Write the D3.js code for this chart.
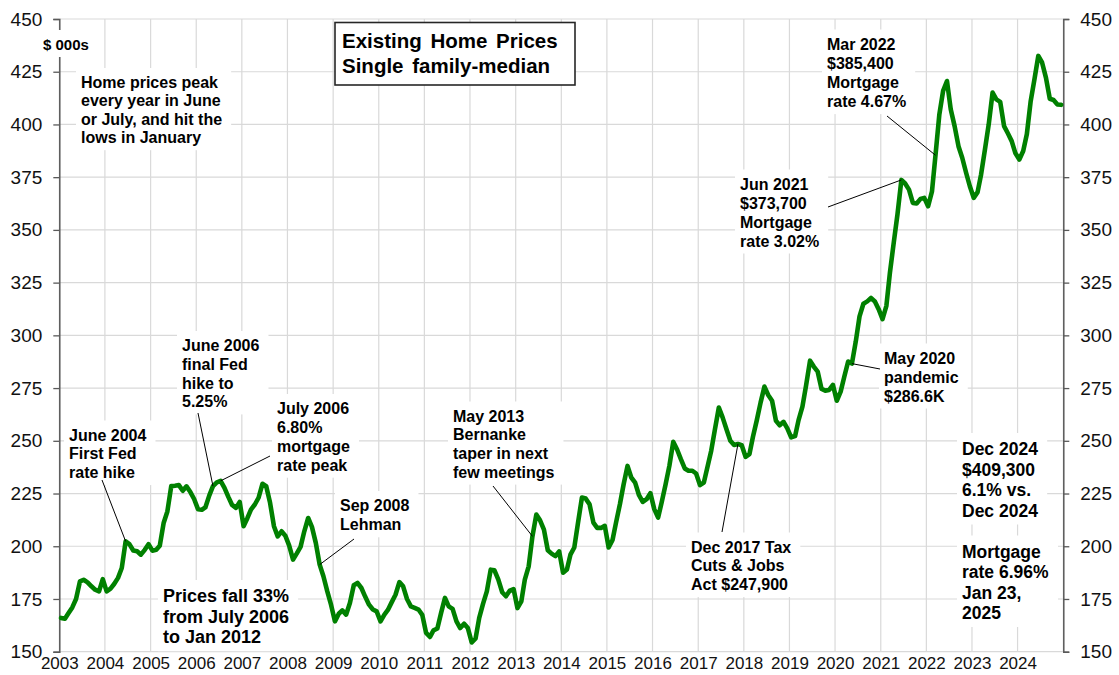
<!DOCTYPE html>
<html>
<head>
<meta charset="utf-8">
<script src="https://cdn.jsdelivr.net/npm/d3@7"></script>
<style>
  body { margin: 0; background: #fff; }
  svg { display: block; }
</style>
</head>
<body>
<svg id="chart" width="1119" height="675"></svg>
<script>
// Existing single-family median price, $000s, monthly Jan 2003 - Dec 2024
const startYear = 2003;
const monthlyPrice = [
  166.0, 165.6, 168.2, 171.0, 175.0, 183.3, 184.1, 182.9, 181.0, 179.4, 178.6, 184.4, // 2003
  178.6, 179.9, 182.1, 185.0, 189.7, 202.3, 201.0, 198.0, 197.6, 196.0, 198.3, 201.0, // 2004
  197.9, 198.3, 200.2, 211.0, 216.5, 228.5, 228.7, 229.0, 226.3, 228.4, 225.7, 222.4, // 2005
  217.6, 217.3, 218.4, 224.0, 228.5, 230.3, 231.0, 227.7, 223.4, 219.6, 218.2, 221.0, // 2006
  209.5, 213.4, 217.4, 219.8, 223.0, 229.6, 228.5, 220.6, 209.5, 204.7, 207.1, 205.0, // 2007
  200.3, 193.7, 196.5, 199.7, 207.1, 213.4, 209.2, 201.6, 191.3, 185.8, 178.6, 172.3, // 2008
  164.4, 168.0, 169.6, 167.6, 173.1, 181.5, 182.6, 180.2, 176.0, 172.3, 170.0, 169.1, // 2009
  164.4, 167.6, 169.8, 173.5, 177.0, 183.0, 181.0, 175.0, 171.5, 170.8, 170.0, 167.5, // 2010
  158.9, 157.0, 160.1, 161.0, 168.4, 175.5, 171.5, 170.3, 164.4, 161.2, 163.3, 161.2, // 2011
  154.4, 156.3, 166.0, 172.8, 178.6, 188.9, 188.6, 184.2, 178.2, 176.3, 179.0, 179.7, // 2012
  170.7, 173.9, 184.2, 190.5, 204.7, 215.0, 212.3, 207.9, 198.1, 196.5, 195.3, 197.6, // 2013
  187.5, 189.0, 196.0, 199.4, 211.2, 223.1, 222.6, 219.9, 211.2, 208.7, 208.7, 209.7, // 2014
  199.4, 203.0, 211.2, 219.9, 229.4, 238.1, 232.6, 230.2, 224.2, 221.0, 222.3, 225.2, // 2015
  217.6, 213.6, 221.0, 229.4, 238.1, 249.5, 246.0, 241.3, 236.9, 235.8, 235.8, 234.5, // 2016
  229.0, 230.2, 237.3, 245.3, 255.5, 265.8, 261.1, 255.5, 250.0, 248.0, 248.5, 247.9, // 2017
  242.4, 243.7, 251.9, 259.8, 268.1, 275.7, 271.7, 269.0, 259.5, 257.4, 259.0, 255.9, // 2018
  251.6, 252.2, 259.8, 266.2, 276.5, 288.0, 285.2, 282.8, 274.6, 273.8, 274.1, 276.5, // 2019
  269.0, 273.3, 280.4, 287.6, 286.6, 297.1, 309.0, 315.0, 316.1, 317.7, 316.1, 312.4, // 2020
  307.7, 314.0, 329.6, 344.0, 357.5, 373.7, 372.0, 369.1, 362.8, 362.5, 364.7, 365.2, // 2021
  361.2, 368.3, 385.4, 404.8, 415.9, 420.6, 407.2, 399.2, 389.7, 384.2, 377.1, 370.7, // 2022
  365.2, 367.9, 376.3, 388.2, 400.0, 415.1, 411.9, 410.7, 399.2, 395.8, 392.1, 386.3, // 2023
  383.4, 387.4, 395.3, 411.1, 421.4, 432.5, 429.4, 422.2, 412.2, 411.6, 409.5, 409.3  // 2024
];
const yTicks = [150, 175, 200, 225, 250, 275, 300, 325, 350, 375, 400, 425, 450];
const xTickYears = d3.range(2003, 2025);
const titleLines = ['Existing Home Prices', 'Single family-median'];

const FONT = '"Liberation Sans", Arial, Helvetica, sans-serif';

// text notes; tip = month index the leader line points at
const notes = [
  { lines: ['Home prices peak', 'every year in June', 'or July, and hit the', 'lows in January'], x: 81, y: 88, size: 16, lh: 18.4 },
  { lines: ['June 2004', 'First Fed', 'rate hike'], x: 69, y: 440.5, size: 16, lh: 18.8, tip: 17, from: [102, 480] },
  { lines: ['June 2006', 'final Fed', 'hike to', '5.25%'], x: 182, y: 351, size: 16, lh: 18.8, tip: 40, from: [198, 413] },
  { lines: ['July 2006', '6.80%', 'mortgage', 'rate peak'], x: 277, y: 414, size: 16, lh: 18.9, tip: 42, from: [270, 456] },
  { lines: ['Sep 2008', 'Lehman'], x: 340, y: 511, size: 16, lh: 19.3, tip: 68, from: [354, 539] },
  { lines: ['Prices fall 33%', 'from July 2006', 'to Jan 2012'], x: 163, y: 602, size: 18, lh: 20.6 },
  { lines: ['May 2013', 'Bernanke', 'taper in next', 'few meetings'], x: 453, y: 421.5, size: 16, lh: 18.7, tip: 124, from: [493, 486] },
  { lines: ['Dec 2017 Tax', 'Cuts & Jobs', 'Act $247,900'], x: 691, y: 552.5, size: 16, lh: 18.8, tip: 178, from: [722, 532] },
  { lines: ['May 2020', 'pandemic', '$286.6K'], x: 884, y: 363.5, size: 16, lh: 19, tip: 208, from: [880, 369] },
  { lines: ['Jun 2021', '$373,700', 'Mortgage', 'rate 3.02%'], x: 740, y: 189.5, size: 16, lh: 19, tip: 221, from: [828, 207] },
  { lines: ['Mar 2022', '$385,400', 'Mortgage', 'rate 4.67%'], x: 827, y: 49.5, size: 16, lh: 19.2, tip: 230, from: [887, 116] },
  { lines: ['Dec 2024', '$409,300', '6.1% vs.', 'Dec 2024'], x: 962, y: 455, size: 17.5, lh: 20.5 },
  { lines: ['Mortgage', 'rate 6.96%', 'Jan 23,', '2025'], x: 962, y: 557.5, size: 17.5, lh: 20.5 },
  { lines: ['$ 000s'], x: 43, y: 50, size: 15, lh: 18 }
];

const width = 1119;
const height = 675;
const margin = { top: 19, right: 55.7, bottom: 23.3, left: 59.3 };

const data = monthlyPrice.map((v, i) => ({
  date: new Date(startYear + Math.floor(i / 12), i % 12, 15), // plotted mid-month
  value: v
}));

const svg = d3.select('#chart');

const x = d3.scaleTime()
  .domain([new Date(2003, 0, 1), new Date(2025, 0, 1)])
  .range([margin.left, width - margin.right]);

const y = d3.scaleLinear()
  .domain([150, 450])
  .range([height - margin.bottom, margin.top]);

// gridlines
const grid = svg.append('g').attr('class', 'grid')
  .attr('stroke', '#d9d9d9').attr('stroke-width', 1.2);

grid.selectAll('line.h')
  .data(yTicks)
  .join('line')
  .attr('class', 'h')
  .attr('x1', margin.left).attr('x2', width - margin.right)
  .attr('y1', d => y(d)).attr('y2', d => y(d));

grid.selectAll('line.v')
  .data(xTickYears.concat([2025]))
  .join('line')
  .attr('class', 'v')
  .attr('x1', d => x(new Date(d, 0, 1))).attr('x2', d => x(new Date(d, 0, 1)))
  .attr('y1', margin.top).attr('y2', height - margin.bottom);

// left + right axes
const leftAxis = svg.append('g')
  .attr('transform', `translate(${margin.left},0)`)
  .call(d3.axisLeft(y).tickValues(yTicks).tickSize(6).tickPadding(11));

const rightAxis = svg.append('g')
  .attr('transform', `translate(${width - margin.right},0)`)
  .call(d3.axisRight(y).tickValues(yTicks).tickSize(6).tickPadding(11));

[leftAxis, rightAxis].forEach(a => {
  a.attr('font-size', 19).attr('font-family', FONT);
  a.select('.domain').attr('stroke', '#595959').attr('stroke-width', 1.5);
  a.selectAll('.tick line').attr('stroke', '#595959').attr('stroke-width', 1.3);
  a.selectAll('.tick text').attr('fill', '#111');
});

// year labels under the chart
const bottomAxis = svg.append('g')
  .attr('transform', `translate(0,${height - margin.bottom})`)
  .call(d3.axisBottom(x)
    .tickValues(xTickYears.map(yr => new Date(yr, 0, 1)))
    .tickFormat(d3.timeFormat('%Y'))
    .tickSize(0)
    .tickPadding(5));
bottomAxis.attr('font-size', 17).attr('font-family', FONT);
bottomAxis.select('.domain').remove();
bottomAxis.selectAll('.tick text').attr('fill', '#111');

// text notes with white backing boxes
const noteLayer = svg.append('g').attr('class', 'notes');
notes.forEach(n => {
  const g = noteLayer.append('g');
  const rect = g.append('rect').attr('fill', '#fff');
  const texts = g.selectAll('text')
    .data(n.lines)
    .join('text')
    .attr('x', n.x)
    .attr('y', (d, k) => n.y + k * n.lh)
    .attr('font-family', FONT)
    .attr('font-weight', 'bold')
    .attr('font-size', n.size)
    .attr('fill', '#000')
    .text(d => d);
  const b = g.node().getBBox();
  rect.attr('x', b.x - 5).attr('y', b.y - 6)
    .attr('width', b.width + 14).attr('height', b.height + 10);
});

// price line
const line = d3.line()
  .x(d => x(d.date))
  .y(d => y(d.value));

svg.append('path')
  .datum(data)
  .attr('fill', 'none')
  .attr('stroke', '#008000')
  .attr('stroke-width', 4.6)
  .attr('stroke-linejoin', 'round')
  .attr('stroke-linecap', 'round')
  .attr('d', line);

// leader lines
svg.append('g').attr('class', 'leaders')
  .selectAll('line')
  .data(notes.filter(n => n.tip !== undefined))
  .join('line')
  .attr('x1', d => d.from[0]).attr('y1', d => d.from[1])
  .attr('x2', d => x(data[d.tip].date)).attr('y2', d => y(data[d.tip].value))
  .attr('stroke', '#000')
  .attr('stroke-width', 1);

// title box
const title = svg.append('g');
title.append('rect')
  .attr('x', 335).attr('y', 22.5)
  .attr('width', 240).attr('height', 62.5)
  .attr('fill', '#fff')
  .attr('stroke', '#262626')
  .attr('stroke-width', 1.6);
title.selectAll('text')
  .data(titleLines)
  .join('text')
  .attr('x', 342)
  .attr('y', (d, i) => 48 + i * 25)
  .attr('font-family', FONT)
  .attr('font-weight', 'bold')
  .attr('font-size', 20.5)
  .attr('word-spacing', 3)
  .attr('fill', '#000')
  .text(d => d);
</script>
</body>
</html>
